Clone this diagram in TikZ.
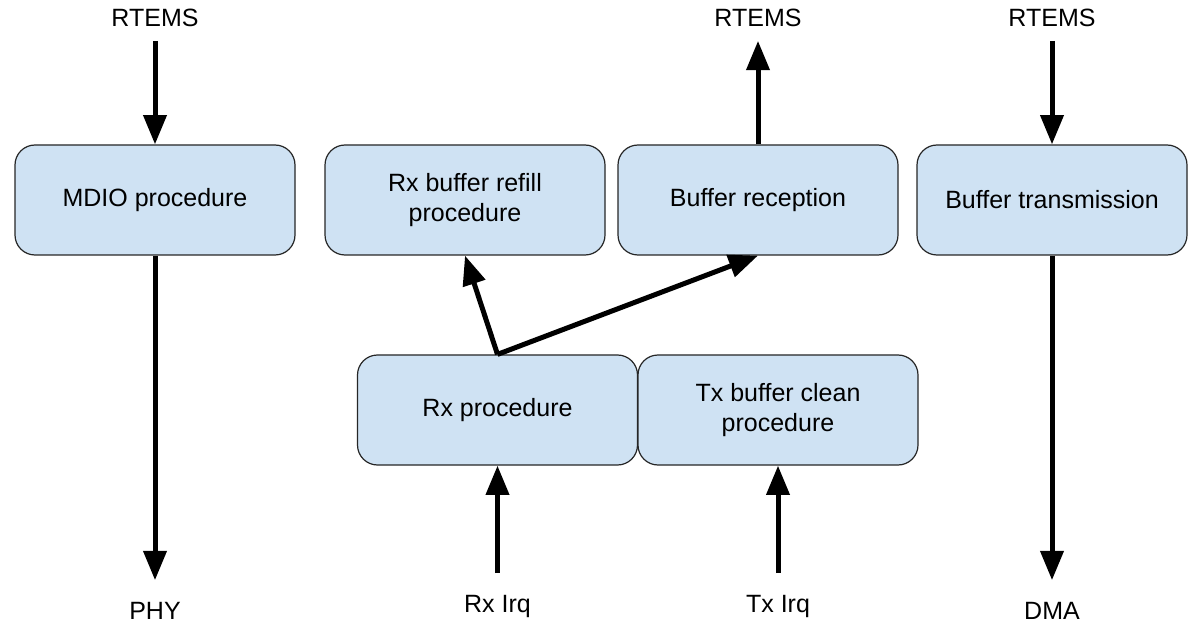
\documentclass[tikz,border=0pt]{standalone}
\usepackage{fontspec}
\setmainfont{Liberation Sans}
\usetikzlibrary{arrows.meta,positioning}
\definecolor{boxblue}{HTML}{CFE2F3}

\begin{document}
\begin{tikzpicture}[x=0.75pt,y=-0.75pt,
    font=\fontsize{18.75pt}{22pt}\selectfont,
    proc/.style={draw=black!85,line width=0.9pt,fill=boxblue,rounded corners=15pt,
      minimum width=210pt,minimum height=82.5pt,align=center,inner sep=0pt},
    lbl/.style={inner sep=0pt,anchor=base},
    flow/.style={line width=3.75pt,-{Triangle[length=22pt,width=17pt]}}]
  \useasboundingbox (0,0) rectangle (1189,627);
  % boxes
  \node[proc] (mdio) at (155,200) {MDIO procedure};
  \node[proc] (refill) at (465,200) {Rx buffer refill\\procedure};
  \node[proc] (recv) at (758,200) {Buffer reception};
  \node[proc,minimum width=202.5pt] (bufftx) at (1052,200) {Buffer transmission};
  \node[proc] (rxproc) at (497.5,410) {Rx procedure};
  \node[proc] (txproc) at (778,410) {Tx buffer clean\\procedure};
  % outer labels
  \node[lbl] (rtemsA) at (155,27) {RTEMS};
  \node[lbl] (rtemsB) at (758,27) {RTEMS};
  \node[lbl] (rtemsC) at (1052,27) {RTEMS};
  \node[lbl] (phy) at (155,619) {PHY};
  \node[lbl] (dma) at (1052,619) {DMA};
  \node[lbl] (rxirq) at (497.5,612) {Rx Irq};
  \node[lbl] (txirq) at (778,612) {Tx Irq};
  % arrows
  \draw[flow,shorten <=10pt] (rtemsA) -- (mdio);
  \draw[flow,shorten >=16pt] (mdio) -- (phy);
  \draw[flow,shorten >=10pt] (recv) -- (rtemsB);
  \draw[flow,shorten <=10pt] (rtemsC) -- (bufftx);
  \draw[flow,shorten >=16pt] (bufftx) -- (dma);
  \draw[flow,shorten <=16pt] (rxirq) -- (rxproc);
  \draw[flow,shorten <=16pt] (txirq) -- (txproc);
  \draw[flow] (rxproc.north) -- (refill.south);
  \draw[flow] (rxproc.north) -- (recv.south);
\end{tikzpicture}
\end{document}
